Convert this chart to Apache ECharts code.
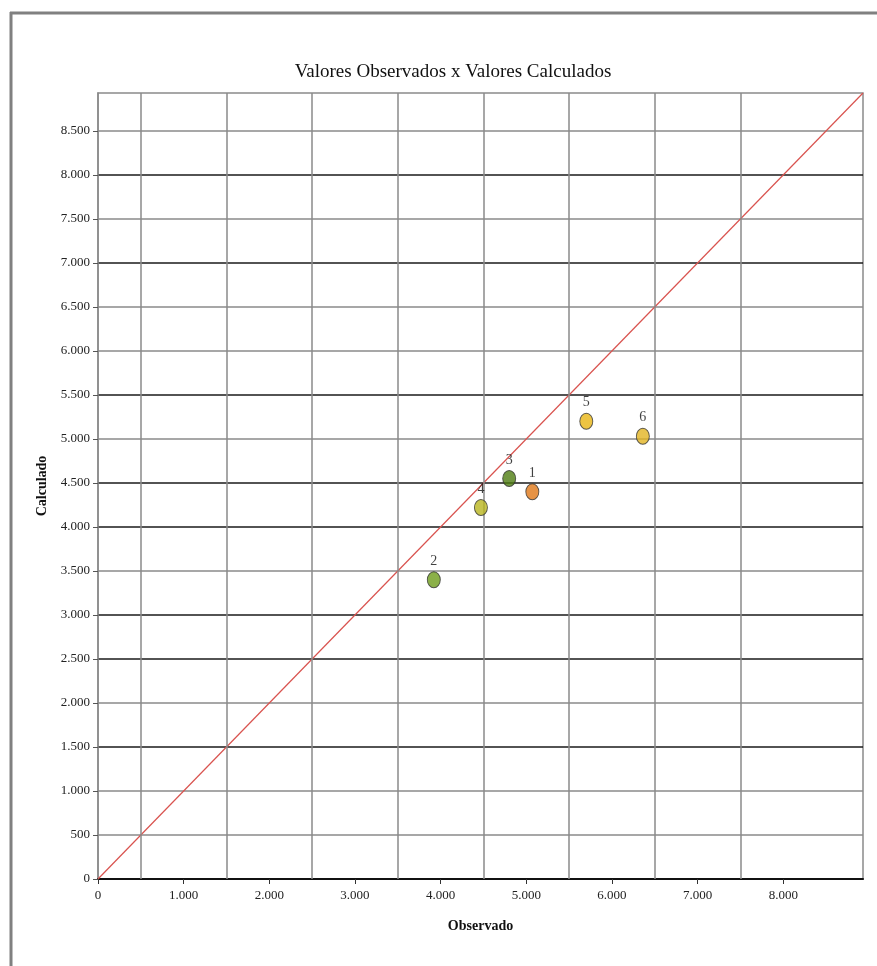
<!DOCTYPE html>
<html>
<head>
<meta charset="utf-8">
<script src="https://cdn.jsdelivr.net/npm/echarts@6/dist/echarts.min.js"></script>
<style>
html,body{margin:0;padding:0;background:#fff;}
#chart{width:877px;height:966px;}
</style>
</head>
<body>
<div id="chart"></div>
<script>
// ---- data ----
const pointIds   = ['1', '2', '3', '4', '5', '6'];
const observado  = [5070, 3920, 4800, 4470, 5700, 6360];
const calculado  = [4400, 3400, 4550, 4220, 5200, 5030];
const pointColors = ['#e07818', '#6e9c1c', '#4f7d12', '#b9b51e', '#e9b514', '#e2b422'];
const axisMax = 8930;
const xTicks = [0, 1000, 2000, 3000, 4000, 5000, 6000, 7000, 8000];
const yTicks = [0, 500, 1000, 1500, 2000, 2500, 3000, 3500, 4000, 4500, 5000, 5500, 6000, 6500, 7000, 7500, 8000, 8500];
const xGridLines = [500, 1500, 2500, 3500, 4500, 5500, 6500, 7500];
const identityLine = [[0, 0], [axisMax, axisMax]];

function fmt(v) {
  const s = String(Math.round(v));
  return s.length > 3 ? s.slice(0, s.length - 3) + '.' + s.slice(s.length - 3) : s;
}

const serif = '"Liberation Serif", "DejaVu Serif", serif';
const dark = '#1a1a1a', gray = '#8a8a8a';
const hColors = [dark, gray, gray, dark, gray, dark, dark, gray, dark, dark, gray, dark, gray, gray, dark, gray, dark, gray, gray];

const chart = echarts.init(document.getElementById('chart'));
chart.setOption({
  animation: false,
  backgroundColor: '#fff',
  title: {
    text: 'Valores Observados x Valores Calculados',
    left: 448, top: 58, textAlign: 'center',
    textStyle: { fontFamily: serif, fontSize: 19, fontWeight: 'normal', color: '#111' }
  },
  graphic: [
    { type: 'line', shape: { x1: 10, y1: 13, x2: 877, y2: 13 }, style: { stroke: '#808080', lineWidth: 3 } },
    { type: 'line', shape: { x1: 11, y1: 12, x2: 11, y2: 966 }, style: { stroke: '#808080', lineWidth: 3 } }
  ],
  grid: { left: 98, right: 14, top: 93, bottom: 87, show: true, borderColor: '#8a8a8a', borderWidth: 1.5, backgroundColor: 'transparent' },
  xAxis: {
    type: 'value', min: 0, max: axisMax, interval: 1000,
    name: 'Observado', nameLocation: 'middle', nameGap: 40,
    nameTextStyle: { fontFamily: serif, fontSize: 14, fontWeight: 'bold', color: '#111' },
    axisLine: { show: true, lineStyle: { color: '#111', width: 2 } },
    axisTick: { show: true, length: 5, customValues: xTicks, lineStyle: { color: '#333' } },
    axisLabel: { customValues: xTicks, formatter: fmt, margin: 10, fontFamily: serif, fontSize: 13, color: '#222' },
    splitLine: { show: false }
  },
  yAxis: {
    type: 'value', min: 0, max: axisMax, interval: 500,
    name: 'Calculado', nameLocation: 'middle', nameGap: 41, nameRotate: 90,
    nameTextStyle: { fontFamily: serif, fontSize: 14, fontWeight: 'bold', color: '#111' },
    axisLine: { show: true, lineStyle: { color: '#8a8a8a', width: 1.5 } },
    axisTick: { show: true, length: 5, customValues: yTicks, lineStyle: { color: '#555' } },
    axisLabel: { customValues: yTicks, formatter: fmt, margin: 8, fontFamily: serif, fontSize: 13, color: '#222' },
    splitLine: { show: true, lineStyle: { color: hColors, width: 1.5 } }
  },
  series: [
    {
      type: 'line', data: identityLine, symbol: 'none', silent: true,
      lineStyle: { color: '#d9534f', width: 1.2 },
      z: 3,
      markLine: {
        silent: true, symbol: 'none', label: { show: false },
        lineStyle: { color: '#8a8a8a', width: 1.5, type: 'solid' },
        data: xGridLines.map(v => ({ xAxis: v }))
      }
    },
    {
      type: 'scatter', z: 5,
      symbol: 'circle', symbolSize: [13, 16],
      data: observado.map((x, i) => ({
        value: [x, calculado[i]], name: pointIds[i],
        itemStyle: { color: pointColors[i] }
      })),
      itemStyle: { borderColor: '#333', borderWidth: 1 },
      label: { show: true, position: 'top', distance: 3, formatter: p => p.name, fontFamily: serif, fontSize: 14, color: '#111' }
    }
  ]
});
</script>
</body>
</html>
